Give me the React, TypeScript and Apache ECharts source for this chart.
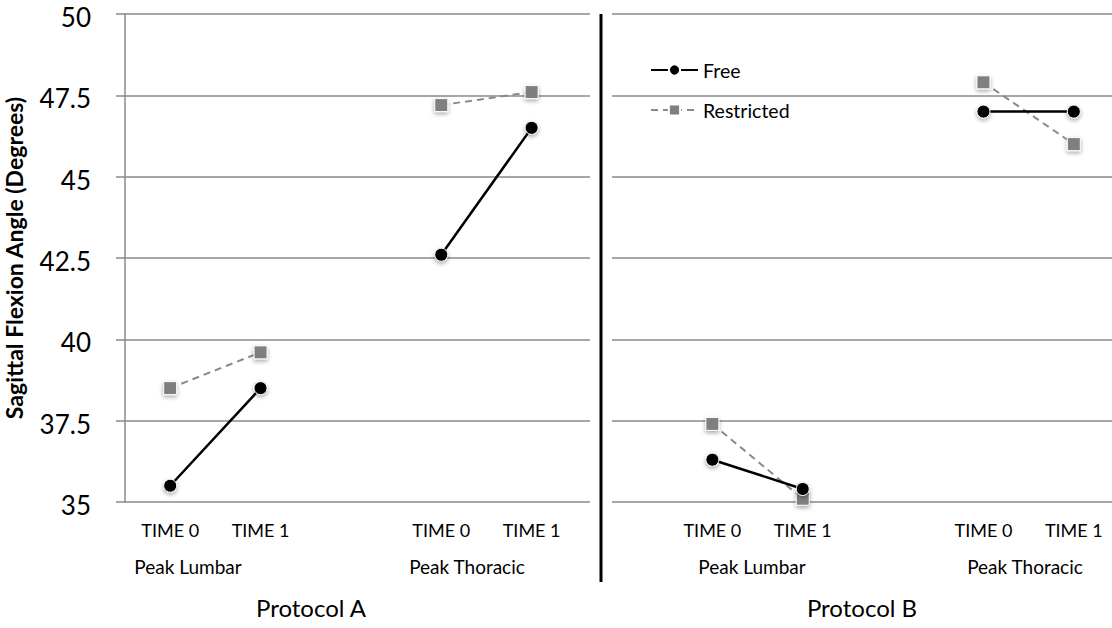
import React, { useEffect, useRef } from "react";
import * as echarts from "echarts";

const categories = ["TIME 0", "TIME 1", "", "TIME 0", "TIME 1", "", "TIME 0", "TIME 1", "", "TIME 0", "TIME 1"];
const freeValues = [35.5, 38.5, null, 42.6, 46.5, null, 36.3, 35.4, null, 47.0, 47.0];
const restrictedValues = [38.5, 39.6, null, 47.2, 47.6, null, 37.4, 35.1, null, 47.9, 46.0];
const groupLabels = ["Peak Lumbar", "Peak Thoracic", "Peak Lumbar", "Peak Thoracic"];
const groupCenters = [188, 467, 752, 1025];
const protocolLabels = ["Protocol A", "Protocol B"];
const protocolCenters = [311, 862];
const yTitle = "Sagittal Flexion Angle (Degrees)";

const FONT = "Lato, 'Open Sans', sans-serif";

export default function App() {
  const ref = useRef<HTMLDivElement>(null);
  useEffect(() => {
    if (!ref.current) return;
    const chart = echarts.init(ref.current, null, { renderer: "svg" });
    const graphics: any[] = [
      { type: "rect", z: 100, shape: { x: 590, y: 8, width: 22, height: 500 }, style: { fill: "#fff" } },
      { type: "line", z: 101, shape: { x1: 601, y1: 14, x2: 601, y2: 582 }, style: { stroke: "#000", lineWidth: 3 } },
    ];
    groupLabels.forEach((t, i) => {
      graphics.push({
        type: "text", z: 101, x: groupCenters[i], y: 566,
        style: { text: t, font: `19px ${FONT}`, fill: "#000", textAlign: "center", textVerticalAlign: "middle" },
      });
    });
    protocolLabels.forEach((t, i) => {
      graphics.push({
        type: "text", z: 101, x: protocolCenters[i], y: 607,
        style: { text: t, font: `24px ${FONT}`, fill: "#000", textAlign: "center", textVerticalAlign: "middle" },
      });
    });
    chart.setOption({
      animation: false,
      backgroundColor: "#fff",
      textStyle: { fontFamily: FONT },
      grid: { left: 125, top: 14, width: 994, height: 488, containLabel: false, outerBoundsMode: "none" },
      legend: {
        orient: "vertical", left: 645, top: 55, itemWidth: 47, itemHeight: 14, itemGap: 20,
        textStyle: { fontSize: 19.5, color: "#000", fontFamily: FONT },
        data: ["Free", "Restricted"],
      },
      xAxis: {
        type: "category", data: categories, boundaryGap: true,
        axisLine: { show: false }, axisTick: { show: false },
        axisLabel: { interval: 0, fontSize: 18, color: "#000", margin: 19, fontFamily: FONT },
      },
      yAxis: {
        type: "value", min: 35, max: 50, interval: 2.5,
        name: yTitle, nameLocation: "middle", nameRotate: 90, nameGap: 100,
        nameTextStyle: { fontSize: 23, fontWeight: "bold", color: "#000", fontFamily: FONT },
        axisLine: { show: true, lineStyle: { color: "#8a8a8a", width: 1.5 } },
        axisTick: { show: true, length: 9, lineStyle: { color: "#8a8a8a", width: 1.5 } },
        axisLabel: {
          margin: 34,
          formatter: "{v|{value}}",
          rich: { v: { fontSize: 26, color: "#000", fontFamily: FONT, padding: [6, 0, 0, 0] } },
        },
        splitLine: { show: true, lineStyle: { color: "#8a8a8a", width: 1.5 } },
      },
      series: [
        {
          name: "Free", type: "line", data: freeValues, connectNulls: false,
          symbol: "circle", symbolSize: 13,
          lineStyle: { color: "#000", width: 2.5 },
          itemStyle: { color: "#000", borderColor: "#fff", borderWidth: 1, shadowBlur: 4, shadowColor: "rgba(0,0,0,0.35)", shadowOffsetY: 2 },
          z: 3,
        },
        {
          name: "Restricted", type: "line", data: restrictedValues, connectNulls: false,
          symbol: "rect", symbolSize: 13,
          lineStyle: { color: "#8a8a8a", width: 2, type: [7, 5] },
          itemStyle: { color: "#7f7f7f", borderColor: "#fff", borderWidth: 1, shadowBlur: 4, shadowColor: "rgba(0,0,0,0.35)", shadowOffsetY: 2 },
          z: 2,
        },
      ],
      graphic: graphics,
    });
    return () => chart.dispose();
  }, []);
  return <div ref={ref} style={{ position: "fixed", left: 0, top: 0, width: 1112, height: 628 }} />;
}
